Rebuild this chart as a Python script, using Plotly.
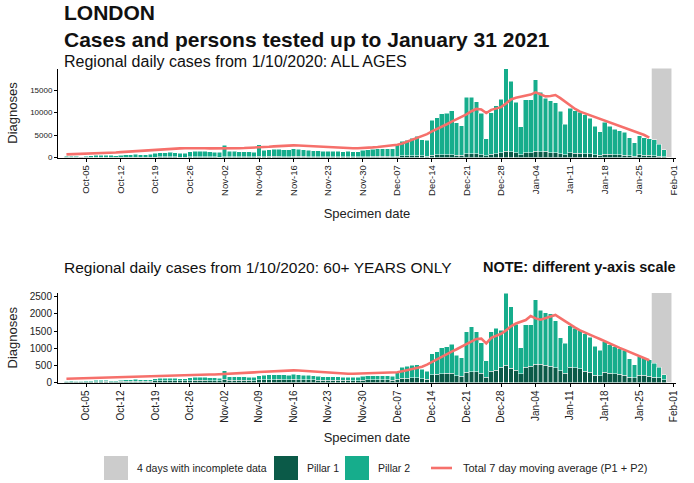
import pandas as pd
import plotly.graph_objects as go

# daily specimen dates, 1 Oct 2020 - 31 Jan 2021
dates = pd.date_range("2020-10-01", "2021-01-31", freq="D")
ma_dates = dates[:-4]          # moving average stops before the incomplete days
incomplete_days = dates[-4:]

# ---- all ages ----
all_p1 = [40, 50, 40, 30, 50, 60, 60, 60, 70, 60, 50, 70, 80, 90, 90, 80, 70, 90, 110, 120, 120, 130, 120, 100, 100, 140, 150, 150, 140, 130, 120,
          110, 200, 180, 180, 170, 170, 150, 140, 250, 220, 230, 240, 240, 220, 200, 260, 240, 230, 210, 200, 180, 170, 190, 180, 180, 170, 170, 150, 140, 200,
          220, 230, 240, 250, 230, 210, 300, 350, 370, 400, 420, 350, 330, 550, 580, 620, 640, 650, 500, 460, 800, 820, 780, 650, 350, 750, 850, 1100, 1400, 1300, 1050,
          650, 1050, 1100, 1400, 1300, 1350, 1100, 1050, 850, 650, 1050, 1000, 950, 850, 780, 600, 500, 750, 680, 620, 580, 540, 420, 330, 600, 520, 480, 420, 330, 220, 0]
all_p2 = [210, 250, 210, 170, 250, 290, 390, 390, 430, 390, 350, 430, 520, 560, 610, 570, 530, 660, 890, 930, 980, 1020, 980, 900, 900, 1160, 1200, 1250, 1210, 1170, 1080,
          1040, 2500, 1170, 1170, 1130, 1130, 1100, 1060, 2550, 1380, 1470, 1560, 1560, 1530, 1500, 1740, 1560, 1470, 1390, 1300, 1270, 1230, 1210, 1170, 1170, 1130, 1180, 1150, 1110, 1400,
          1480, 1570, 1660, 1750, 1770, 1690, 2600, 3250, 3430, 3900, 4280, 3650, 3470, 7750, 8270, 9080, 9210, 9800, 7250, 6590, 12650, 12630, 11570, 9200, 3800, 9250, 10650, 11900, 18300, 15700, 11250,
          6150, 11850, 11800, 15900, 13200, 11850, 11500, 11150, 9450, 6750, 9950, 9400, 9150, 8650, 7920, 6400, 5200, 7050, 6320, 5680, 5320, 5060, 3980, 2970, 4200, 3880, 3720, 3480, 2570, 1480, 0]
all_ma = [700, 730, 760, 800, 840, 880, 920, 960, 1000, 1050, 1100, 1200, 1280, 1350,
          1420, 1500, 1580, 1660, 1750, 1820, 1880, 1940, 1990, 2030, 2070, 2100, 2100, 2080,
          2060, 2040, 2020, 2000, 2000, 2020, 2040, 2070, 2100, 2130, 2170, 2200, 2280, 2380,
          2480, 2570, 2640, 2690, 2700, 2680, 2620, 2540, 2450, 2370, 2300, 2200, 2150, 2100,
          2080, 2060, 2050, 2050, 2080, 2150, 2250, 2350, 2450, 2550, 2650, 2850, 3100, 3500,
          3900, 4300, 4700, 5200, 5800, 6300, 6800, 7400, 8000, 8500, 9000, 9600, 10300, 10800,
          10700, 9900, 10600, 10900, 11200, 12000, 12900, 13300, 13500, 13700, 14000, 14500, 14000, 13600,
          13700, 13900, 13200, 12400, 11500, 10800, 10200, 9800, 9300, 8900, 8500, 8100, 7700, 7300,
          6900, 6500, 6100, 5800, 5400, 5000, 4400]

# ---- 60+ years ----
old_p1 = [20, 20, 20, 15, 20, 25, 25, 25, 30, 25, 25, 30, 35, 35, 40, 35, 30, 35, 45, 50, 50, 55, 50, 45, 45, 55, 60, 60, 60, 55, 50,
          50, 90, 65, 70, 65, 65, 60, 55, 75, 80, 85, 85, 90, 85, 80, 90, 85, 80, 80, 75, 70, 65, 65, 65, 60, 60, 60, 55, 55, 70,
          75, 75, 80, 80, 75, 70, 100, 120, 130, 135, 140, 110, 100, 230, 240, 260, 270, 270, 200, 180, 300, 320, 310, 270, 150, 330, 360, 450, 500, 420, 360,
          250, 450, 470, 530, 530, 500, 470, 430, 350, 275, 440, 430, 400, 330, 300, 210, 200, 300, 270, 255, 235, 205, 160, 140, 210, 210, 180, 160, 140, 80, 0]
old_p2 = [20, 25, 20, 20, 30, 30, 35, 35, 35, 30, 30, 40, 45, 50, 50, 50, 45, 45, 65, 70, 75, 75, 75, 70, 65, 85, 90, 95, 90, 90, 85,
          80, 250, 105, 105, 105, 100, 100, 95, 125, 130, 135, 140, 140, 135, 135, 150, 140, 135, 125, 120, 115, 110, 105, 100, 105, 100, 100, 100, 95, 115,
          115, 120, 120, 120, 115, 110, 200, 330, 350, 365, 380, 270, 230, 610, 650, 760, 770, 850, 590, 545, 1180, 1310, 1170, 890, 480, 1150, 1220, 1080, 2100, 1790, 1340,
          770, 1230, 1210, 1880, 1570, 1530, 1530, 1370, 950, 875, 1210, 1150, 1120, 1090, 1020, 840, 740, 890, 830, 785, 755, 735, 540, 380, 550, 510, 490, 400, 300, 140, 0]
old_ma = [110, 115, 120, 125, 130, 135, 140, 145, 150, 155, 160, 165, 170, 175,
          180, 185, 190, 195, 200, 205, 210, 215, 220, 225, 230, 230, 235, 235,
          235, 235, 235, 240, 250, 260, 265, 270, 275, 285, 295, 305, 315, 325,
          335, 345, 350, 355, 355, 350, 340, 325, 310, 295, 285, 275, 265, 260,
          255, 255, 255, 260, 265, 270, 275, 280, 285, 290, 295, 300, 330, 360,
          390, 420, 460, 520, 600, 680, 760, 830, 900, 970, 1040, 1120, 1200, 1270,
          1280, 1140, 1300, 1370, 1420, 1520, 1640, 1720, 1780, 1820, 1940, 1870, 1830, 1870,
          1930, 1970, 1880, 1780, 1680, 1600, 1520, 1450, 1390, 1330, 1270, 1200, 1140, 1080,
          1010, 950, 890, 830, 770, 710, 650]

P1_COL = "#0b5a48"
P2_COL = "#16ad8c"
MA_COL = "#f6706b"
GREY = "#cccccc"
FONT = "Liberation Sans, Arial, sans-serif"

W, H = 694, 483
ML, MR = 58, 18


def px(x):
    return (x - ML) / (W - ML - MR)


def py(y):
    return 1 - y / H


fig = go.Figure()
for p1, p2, ma, xa, ya in [(all_p1, all_p2, all_ma, "x", "y"), (old_p1, old_p2, old_ma, "x2", "y2")]:
    fig.add_trace(go.Bar(x=dates, y=p1, name="Pillar 1", marker=dict(color=P1_COL, line=dict(color="white", width=0.5)),
                         xaxis=xa, yaxis=ya, showlegend=False))
    fig.add_trace(go.Bar(x=dates, y=p2, name="Pillar 2", marker=dict(color=P2_COL, line=dict(color="white", width=0.5)),
                         xaxis=xa, yaxis=ya, showlegend=False))
    fig.add_trace(go.Scatter(x=ma_dates, y=ma, mode="lines", line=dict(color=MA_COL, width=2.6),
                             xaxis=xa, yaxis=ya, showlegend=False))
    # grey band over the incomplete days
    fig.add_shape(type="rect", xref=xa, yref=ya + " domain",
                  x0=incomplete_days[0] - pd.Timedelta(hours=12), x1=incomplete_days[-1] + pd.Timedelta(hours=12),
                  y0=0, y1=1, fillcolor=GREY, line_width=0, layer="below")

xrange = ["2020-09-29 07:00", "2021-02-01 10:00"]
xcommon = dict(type="date", range=xrange, tick0="2020-10-05", dtick=7 * 86400000, tickformat="%b-%d",
               tickangle=-90, showline=True, linecolor="black", linewidth=1, ticks="outside", ticklen=3,
               tickcolor="black", showgrid=False, zeroline=False, automargin=False)
ycommon = dict(showline=True, linecolor="black", linewidth=1, ticks="outside", ticklen=3, tickcolor="black",
               showgrid=False, zeroline=False, automargin=False, tickformat="d",
               title=dict(text="Diagnoses", font=dict(size=13, color="#222"), standoff=9))

fig.update_layout(
    width=W, height=H, margin=dict(l=ML, r=MR, t=0, b=0),
    plot_bgcolor="white", paper_bgcolor="white",
    barmode="stack", bargap=0.05,
    font=dict(family=FONT, color="#222"),
    xaxis=dict(xcommon, anchor="y", domain=[0, 1], tickfont=dict(size=9.5),
               title=dict(text="Specimen date", font=dict(size=13, color="#222"), standoff=13)),
    yaxis=dict(ycommon, anchor="x", domain=[py(157.5), py(68.5)], range=[0, 19800],
               tickvals=[0, 5000, 10000, 15000], tickfont=dict(size=8)),
    xaxis2=dict(xcommon, anchor="y2", domain=[0, 1], tickfont=dict(size=10),
                title=dict(text="Specimen date", font=dict(size=13, color="#222"), standoff=11)),
    yaxis2=dict(ycommon, anchor="x2", domain=[py(382.5), py(293)], range=[0, 2610],
                tickvals=[0, 500, 1000, 1500, 2000, 2500], tickfont=dict(size=10)),
)

ann = [
    ("LONDON", 62, 13, 21, True),
    ("Cases and persons tested up to January 31 2021", 62, 39, 21, True),
    ("Regional daily cases from 1/10/2020: ALL AGES", 62, 62, 16, False),
    ("Regional daily cases from 1/10/2020: 60+ YEARS ONLY", 62, 267, 15.5, False),
    ("NOTE: different y-axis scale", 481, 267, 14.5, True),
]
for text, x, y, size, bold in ann:
    fig.add_annotation(text=f"<b>{text}</b>" if bold else text, xref="paper", yref="paper",
                       x=px(x), y=py(y), xanchor="left", yanchor="middle", showarrow=False,
                       font=dict(size=size, color="#111"))

# legend drawn by hand so the swatches can be as large as in the original
legend_y = 468
for x0, col, label in [(104, GREY, "4 days with incomplete data"), (274, P1_COL, "Pillar 1"), (345, P2_COL, "Pillar 2")]:
    fig.add_shape(type="rect", xref="paper", yref="paper", x0=px(x0), x1=px(x0 + 24),
                  y0=py(legend_y + 12), y1=py(legend_y - 12), fillcolor=col, line_width=0)
    fig.add_annotation(text=label, xref="paper", yref="paper", x=px(x0 + 31), y=py(legend_y),
                       xanchor="left", yanchor="middle", showarrow=False, font=dict(size=10.5, color="#222"))
fig.add_shape(type="line", xref="paper", yref="paper", x0=px(431), x1=px(452), y0=py(legend_y), y1=py(legend_y),
              line=dict(color=MA_COL, width=2.6))
fig.add_annotation(text="Total 7 day moving average (P1 + P2)", xref="paper", yref="paper", x=px(461), y=py(legend_y),
                   xanchor="left", yanchor="middle", showarrow=False, font=dict(size=11, color="#222"))

# the page's default body margin would shift the figure by 8px
fig.write_html("out.html", config={"displayModeBar": False},
               post_script="document.body.style.margin='0';")
